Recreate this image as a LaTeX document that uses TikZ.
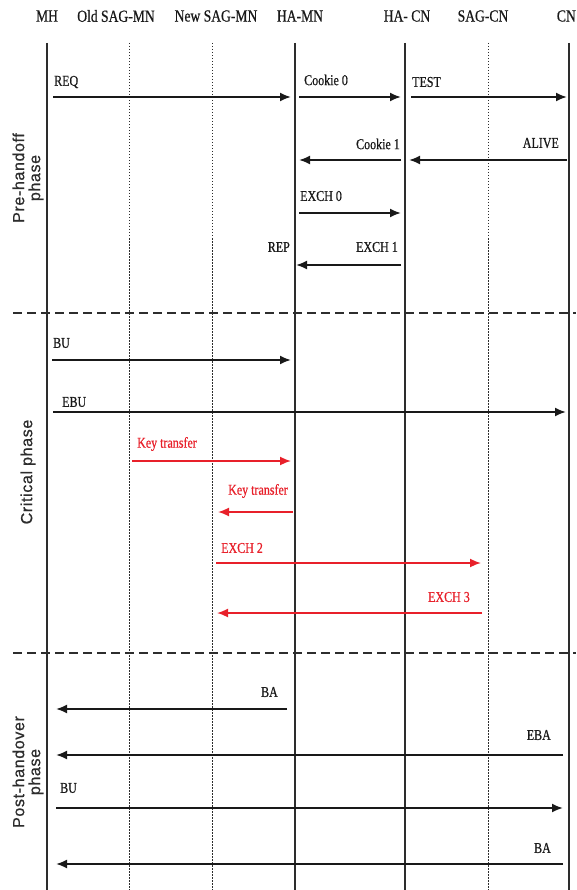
\documentclass[tikz,border=0pt]{standalone}
\usepackage{fontspec}
\setmainfont[FakeStretch=0.8,FakeBold=0.6]{Liberation Serif}
\newfontfamily\phasefont[LetterSpace=4,FakeBold=0.8]{Liberation Sans}
\usetikzlibrary{arrows.meta}
\definecolor{msgred}{RGB}{232,32,42}
\definecolor{ink}{RGB}{25,25,25}
\definecolor{lifegray}{RGB}{45,45,45}
\begin{document}
\begin{tikzpicture}[x=1pt,y=-1pt,
  header/.style={font=\fontsize{17}{19}\selectfont, text=ink, inner sep=0pt},
  lbl/.style={font=\fontsize{15}{17}\selectfont, text=ink, inner sep=0pt},
  redlbl/.style={lbl, text=msgred},
  mainlife/.style={draw=lifegray, line width=1.7pt},
  sublife/.style={draw=lifegray, line width=0.8pt, dash pattern=on 1.5pt off 1.5pt},
  separator/.style={draw=lifegray, line width=2.3pt, dash pattern=on 9pt off 5pt},
  msg/.style={draw=ink, line width=1.9pt, -{Latex[length=11pt,width=9pt]}},
  redmsg/.style={draw=msgred, line width=1.7pt, -{Latex[length=11pt,width=9pt]}},
  phase/.style={font=\phasefont\fontsize{16}{16}\selectfont, text=lifegray, rotate=90, align=center, inner sep=0pt}]
\useasboundingbox (0,0) rectangle (576,890);
\fill[white] (0,0) rectangle (576,890);

% headers
\node[header] (hMH)  at (47,16) {MH};
\node[header] (hOS)  at (116,16) {Old SAG-MN};
\node[header] (hNS)  at (216,16) {New SAG-MN};
\node[header] (hHM)  at (300,16) {HA-MN};
\node[header] (hHC)  at (407,16) {HA- CN};
\node[header] (hSC)  at (483,16) {SAG-CN};
\node[header, anchor=east] (hCN)  at (576,16) {CN};

% lifelines
\coordinate (tMH) at (47,43);  \coordinate (bMH) at (47,890);
\coordinate (tOS) at (129,43); \coordinate (bOS) at (129,890);
\coordinate (tNS) at (212,43); \coordinate (bNS) at (212,890);
\coordinate (tHM) at (295,43); \coordinate (bHM) at (295,890);
\coordinate (tHC) at (405,43); \coordinate (bHC) at (405,890);
\coordinate (tSC) at (488,43); \coordinate (bSC) at (488,890);
\coordinate (tCN) at (569,43); \coordinate (bCN) at (569,890);
\draw[sublife] (tOS) -- (bOS);
\draw[sublife] (tNS) -- (bNS);
\draw[sublife] (tSC) -- (bSC);
\draw[mainlife] (tMH) -- (bMH);
\draw[mainlife] (tHM) -- (bHM);
\draw[mainlife] (tHC) -- (bHC);
\draw[mainlife] (tCN) -- (bCN);

% phase separators
\coordinate (s1a) at (13,313); \coordinate (s1b) at (576,313);
\coordinate (s2a) at (13,653); \coordinate (s2b) at (576,653);
\draw[separator] (s1a) -- (s1b);
\draw[separator] (s2a) -- (s2b);

% phase labels
\node[phase] (pPre)  at (28,178) {Pre-handoff\\phase};
\node[phase] (pCrit) at (28,472) {Critical phase};
\node[phase] (pPost) at (28,772) {Post-handover\\phase};

% pre-handoff messages
\coordinate (a1s) at (53,97);  \coordinate (a1e) at (291,97);
\coordinate (a2s) at (299,97); \coordinate (a2e) at (401,97);
\coordinate (a3s) at (411,97); \coordinate (a3e) at (567,97);
\coordinate (a4s) at (401,160); \coordinate (a4e) at (299,160);
\coordinate (a5s) at (567,160); \coordinate (a5e) at (409,160);
\coordinate (a6s) at (299,213); \coordinate (a6e) at (401,213);
\coordinate (a7s) at (401,265); \coordinate (a7e) at (296,265);
\draw[msg] (a1s) -- (a1e);
\draw[msg] (a2s) -- (a2e);
\draw[msg] (a3s) -- (a3e);
\draw[msg] (a4s) -- (a4e);
\draw[msg] (a5s) -- (a5e);
\draw[msg] (a6s) -- (a6e);
\draw[msg] (a7s) -- (a7e);
\node[lbl, anchor=west] (lREQ) at (54,82) {REQ};
\node[lbl, anchor=west] (lC0) at (304,80) {Cookie 0};
\node[lbl, anchor=west] (lTEST) at (412,82) {TEST};
\node[lbl, anchor=east] (lC1) at (400,144) {Cookie 1};
\node[lbl, anchor=east] (lALIVE) at (559,143) {ALIVE};
\node[lbl, anchor=west] (lE0) at (300,196) {EXCH 0};
\node[lbl, anchor=east] (lREP) at (290,247) {REP};
\node[lbl, anchor=east] (lE1) at (398,247) {EXCH 1};

% critical phase messages
\coordinate (b1s) at (52,360);  \coordinate (b1e) at (291,360);
\coordinate (b2s) at (53,412);  \coordinate (b2e) at (566,412);
\coordinate (b3s) at (132,461); \coordinate (b3e) at (291,461);
\coordinate (b4s) at (293,512); \coordinate (b4e) at (218,512);
\coordinate (b5s) at (216,563); \coordinate (b5e) at (481,563);
\coordinate (b6s) at (482,613); \coordinate (b6e) at (217,613);
\draw[msg] (b1s) -- (b1e);
\draw[msg] (b2s) -- (b2e);
\draw[redmsg] (b3s) -- (b3e);
\draw[redmsg] (b4s) -- (b4e);
\draw[redmsg] (b5s) -- (b5e);
\draw[redmsg] (b6s) -- (b6e);
\node[lbl, anchor=west] (lBU1) at (53,343) {BU};
\node[lbl, anchor=west] (lEBU) at (62,402) {EBU};
\node[redlbl, anchor=west] (lKT1) at (137,444) {Key transfer};
\node[redlbl, anchor=west] (lKT2) at (228,491) {Key transfer};
\node[redlbl, anchor=west] (lE2) at (221,548) {EXCH 2};
\node[redlbl, anchor=east] (lE3) at (470,597) {EXCH 3};

% post-handover messages
\coordinate (c1s) at (287,709); \coordinate (c1e) at (56,709);
\coordinate (c2s) at (563,755); \coordinate (c2e) at (56,755);
\coordinate (c3s) at (56,808);  \coordinate (c3e) at (563,808);
\coordinate (c4s) at (563,864); \coordinate (c4e) at (56,864);
\draw[msg] (c1s) -- (c1e);
\draw[msg] (c2s) -- (c2e);
\draw[msg] (c3s) -- (c3e);
\draw[msg] (c4s) -- (c4e);
\node[lbl, anchor=east] (lBA1) at (278,692) {BA};
\node[lbl, anchor=east] (lEBA) at (551,735) {EBA};
\node[lbl, anchor=west] (lBU2) at (60,788) {BU};
\node[lbl, anchor=east] (lBA2) at (551,848) {BA};
\end{tikzpicture}
\end{document}
